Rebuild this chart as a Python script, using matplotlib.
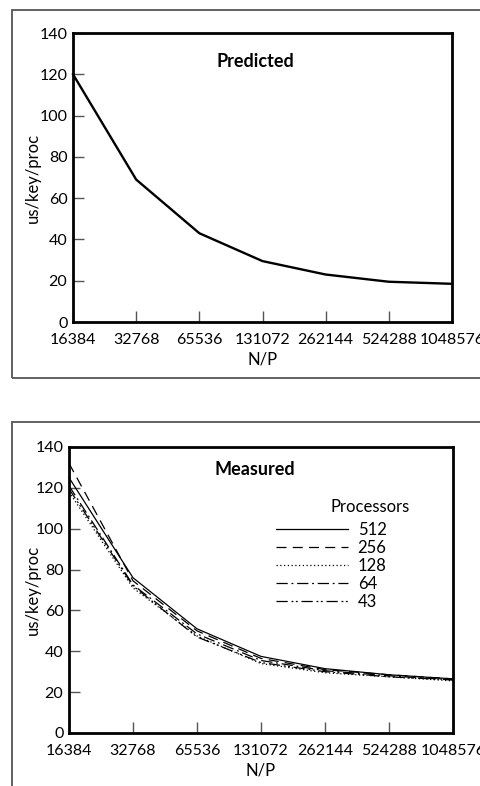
import matplotlib
matplotlib.use("Agg")
import matplotlib.pyplot as plt
from matplotlib.patches import Rectangle

plt.rcParams['font.family'] = ['Lato', 'DejaVu Sans']

np_labels = ['16384', '32768', '65536', '131072', '262144', '524288', '1048576']
yticks = [0, 20, 40, 60, 80, 100, 120, 140]

predicted = [120, 69, 43, 29.5, 23, 19.5, 18.5]

procs = ['512', '256', '128', '64', '43']
m512 = [125, 76, 51, 37.5, 31.5, 28.5, 26.5]
m256 = [132, 74.5, 50, 36.5, 31, 28.5, 26.5]
m128 = [118, 71, 47.5, 34, 29.5, 27.5, 25.5]
m64 = [121, 72.5, 48.5, 35.5, 30.5, 28, 26]
m43 = [119.5, 72, 47, 34.5, 30, 27.5, 26]
measured = [m512, m256, m128, m64, m43]
styles = ['-', (0, (8, 5)), (0, (1, 2)), (0, (9, 3, 1.5, 3)), (0, (9, 3, 1.5, 2, 1.5, 3))]

fig = plt.figure(figsize=(4.81, 7.86), dpi=100)

# panel frames
fig.patches.append(Rectangle((12/481, 1-378/786), 1.0, 368/786, transform=fig.transFigure,
                             fill=False, ec='#555555', lw=1.3))
fig.patches.append(Rectangle((12/481, -0.05), 1.0, 1-422/786+0.05, transform=fig.transFigure,
                             fill=False, ec='#555555', lw=1.3))

x = list(range(len(np_labels)))


def style_axes(ax, ylab_x):
    ax.set_xlim(0, 6)
    ax.set_ylim(0, 140)
    ax.set_xticks(x)
    ax.set_xticklabels(np_labels)
    ax.set_yticks(yticks)
    ax.tick_params(direction='in', length=8, width=1, color='#555555', labelsize=11.5, pad=4)
    ax.tick_params(axis='x', pad=8)
    for s in ax.spines.values():
        s.set_linewidth(2)
    ax.set_xlabel('N/P', fontsize=12, labelpad=3)
    ax.set_ylabel('us/key/proc', fontsize=12)
    ax.yaxis.set_label_coords(ylab_x, 0.5)


ax1 = fig.add_axes([73/481, 1-322/786, 379/481, 289/786])
ax1.plot(x, predicted, color='black', lw=1.7, clip_on=False)
style_axes(ax1, -0.084)
ax1.text(0.48, 0.90, 'Predicted', transform=ax1.transAxes, ha='center', va='center',
         fontsize=13, fontweight='bold')

ax2 = fig.add_axes([69/481, 1-733/786, 384/481, 286/786])
for vals, ls, lab in zip(measured, styles, procs):
    ax2.plot(x, vals, color='black', lw=0.9, ls=ls, label=lab, clip_on=False)
style_axes(ax2, -0.073)
ax2.text(0.484, 0.92, 'Measured', transform=ax2.transAxes, ha='center', va='center',
         fontsize=13, fontweight='bold')
ax2.text((370-69)/384, (733-507)/286, 'Processors', transform=ax2.transAxes,
         ha='center', va='center', fontsize=12)
ax2.legend(loc='upper left', bbox_to_anchor=((276-69)/384, (733-522)/286), frameon=False,
           fontsize=12, handlelength=4.3, handletextpad=0.6, labelspacing=0.12,
           borderpad=0, borderaxespad=0)

fig.savefig('out.png', dpi=100)
